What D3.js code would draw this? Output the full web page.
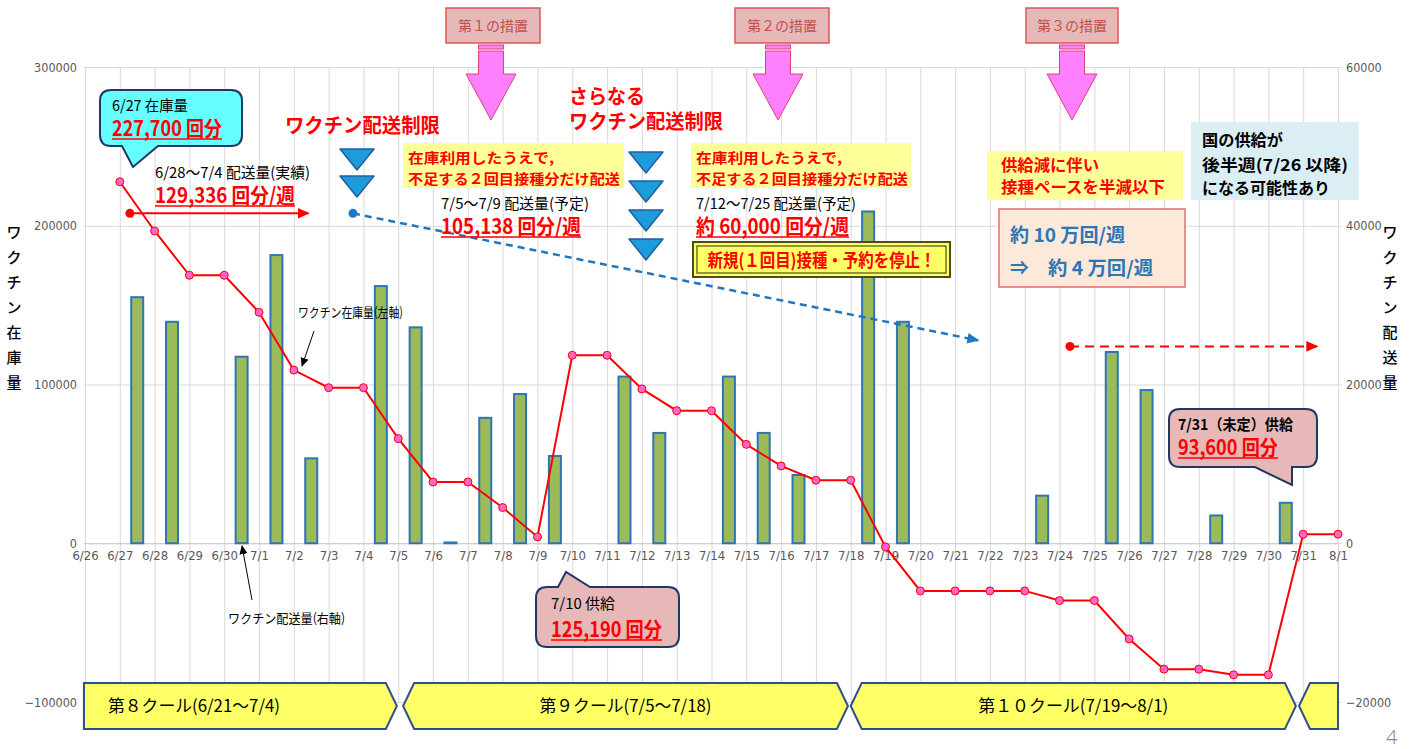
<!DOCTYPE html>
<html>
<head>
<meta charset="utf-8">
<script src="https://cdn.jsdelivr.net/npm/d3@7"></script>
<style>
  body { margin: 0; background: #fff; }
  svg { display: block; font-family: "Noto Sans CJK JP", sans-serif; }
  .tick text { font-family: "Liberation Sans Narrow", "DejaVu Sans Condensed", "Roboto", sans-serif; fill: #595959; }
</style>
</head>
<body>
<svg id="chart" width="1411" height="749"></svg>
<script>
// ---------------------------------------------------------------------------
// Data
// ---------------------------------------------------------------------------
const dates = ["6/26", "6/27", "6/28", "6/29", "6/30", "7/1", "7/2", "7/3", "7/4", "7/5",
  "7/6", "7/7", "7/8", "7/9", "7/10", "7/11", "7/12", "7/13", "7/14", "7/15", "7/16",
  "7/17", "7/18", "7/19", "7/20", "7/21", "7/22", "7/23", "7/24", "7/25", "7/26",
  "7/27", "7/28", "7/29", "7/30", "7/31", "8/1"];

// ワクチン在庫量 (left axis), 6/27 .. 8/1
const stockDates = dates.slice(1);
const stockValues = [227700, 196700, 168800, 168800, 145500, 109100, 98000, 98000,
  65900, 38600, 38600, 22500, 4000, 118400, 118400, 97200, 83500, 83500, 62300,
  48700, 39700, 39700, -2300, -30000, -30000, -30000, -30000, -36100, -36100,
  -60300, -79300, -79300, -82900, -82900, 5700, 5700];

// ワクチン配送量 (right axis), bars sit half a day after their date
const deliveryDates = ["6/27", "6/28", "6/30", "7/1", "7/2", "7/4", "7/5", "7/6", "7/7",
  "7/8", "7/9", "7/11", "7/12", "7/14", "7/15", "7/16", "7/18", "7/19", "7/23", "7/25",
  "7/26", "7/28", "7/30"];
const deliveryValues = [31000, 27900, 23500, 36300, 10700, 32400, 27200, 100, 15800,
  18800, 11000, 21000, 13900, 21000, 13900, 8600, 41800, 27900, 6000, 24100, 19300,
  3500, 5100];

const leftTicks = [-100000, 0, 100000, 200000, 300000];
const rightTicks = [-20000, 0, 20000, 40000, 60000];

const coursLabels = ["第８クール(6/21〜7/4)", "第９クール(7/5〜7/18)", "第１０クール(7/19〜8/1)", ""];
const coursSpans = [[-0.03, 8.96], [9.14, 21.92], [22.0, 34.79], [34.88, 36.0]];

// ---------------------------------------------------------------------------
// Scales / axes
// ---------------------------------------------------------------------------
const svg = d3.select("#chart");
const plotL = 85, plotR = 1338, plotT = 67, plotB = 702;

const x = d3.scalePoint().domain(dates).range([plotL, plotR]);
const step = x.step();
const xi = (i) => plotL + i * step;          // fractional day index -> px
const yL = d3.scaleLinear().domain([-100000, 300000]).range([plotB, plotT]);
const yR = d3.scaleLinear().domain([-20000, 60000]).range([plotB, plotT]);

// vertical grid
svg.append("g")
  .attr("transform", `translate(0,${plotB})`)
  .call(d3.axisBottom(x).tickSize(-(plotB - plotT)).tickFormat(""))
  .call((g) => g.select(".domain").remove())
  .call((g) => g.selectAll("line").attr("stroke", "#d9d9d9"));

// horizontal grid + left labels
svg.append("g")
  .attr("transform", `translate(${plotL - 1},0)`)
  .call(d3.axisLeft(yL).tickValues(leftTicks).tickFormat(d3.format("d"))
    .tickSize(-(plotR - plotL + 1)).tickPadding(7))
  .call((g) => g.select(".domain").remove())
  .call((g) => g.selectAll("line").attr("stroke", (d) => d === 0 ? "#bfbfbf" : "#d9d9d9"))
  .call((g) => g.selectAll("text").attr("font-size", 12.5));

// right labels
svg.append("g")
  .attr("transform", `translate(${plotR},0)`)
  .call(d3.axisRight(yR).tickValues(rightTicks).tickFormat(d3.format("d")).tickSize(4).tickPadding(4))
  .call((g) => g.select(".domain").attr("stroke", "#d9d9d9"))
  .call((g) => g.selectAll("line").attr("stroke", "#d9d9d9"))
  .call((g) => g.selectAll("text").attr("font-size", 12.5));

// category labels under the zero line
svg.append("g")
  .attr("transform", `translate(0,${yL(0)})`)
  .call(d3.axisBottom(x).tickSize(0).tickPadding(8))
  .call((g) => g.select(".domain").remove())
  .call((g) => g.selectAll("text").attr("font-size", 13));

// axis titles (vertical stacked)
function verticalTitle(cx, text) {
  const t = svg.append("text").attr("font-size", 15).attr("font-weight", 500)
    .attr("fill", "#000").attr("text-anchor", "middle");
  [...text].forEach((ch, i) => {
    t.append("tspan").attr("x", cx).attr("y", 238 + i * 25).text(ch);
  });
}
verticalTitle(14, "ワクチン在庫量");
verticalTitle(1390, "ワクチン配送量");

// ---------------------------------------------------------------------------
// Bars and line
// ---------------------------------------------------------------------------
const barW = 12;
svg.append("g")
  .selectAll("rect")
  .data(deliveryDates.map((d, i) => ({ date: d, value: deliveryValues[i] })))
  .join("rect")
  .attr("x", (d) => x(d.date) + step / 2 - barW / 2)
  .attr("y", (d) => yR(d.value))
  .attr("width", barW)
  .attr("height", (d) => yR(0) - yR(d.value))
  .attr("fill", "#9bbb59")
  .attr("stroke", "#2e75b6")
  .attr("stroke-width", 2);

const stock = stockDates.map((d, i) => ({ date: d, value: stockValues[i] }));
svg.append("path")
  .datum(stock)
  .attr("fill", "none")
  .attr("stroke", "#ff0000")
  .attr("stroke-width", 2)
  .attr("d", d3.line().x((d) => x(d.date)).y((d) => yL(d.value)));

svg.append("g")
  .selectAll("circle")
  .data(stock)
  .join("circle")
  .attr("cx", (d) => x(d.date))
  .attr("cy", (d) => yL(d.value))
  .attr("r", 4)
  .attr("fill", "#ff66cc")
  .attr("stroke", "#ff0000")
  .attr("stroke-width", 1);

// ---------------------------------------------------------------------------
// Annotations
// ---------------------------------------------------------------------------
const defs = svg.append("defs");
function marker(id, color, size) {
  defs.append("marker")
    .attr("id", id)
    .attr("viewBox", "0 -5 10 10")
    .attr("refX", 9).attr("refY", 0)
    .attr("orient", "auto")
    .attr("markerUnits", "userSpaceOnUse")
    .attr("markerWidth", size).attr("markerHeight", size)
    .append("path").attr("d", "M0,-4.5L10,0L0,4.5Z").attr("fill", color);
}
marker("arr-red", "#ff0000", 12);
marker("arr-blue", "#1f77c4", 12);
marker("arr-black", "#000", 9);

function levelArrow(i0, v0, i1, v1, color, width, dash, mk) {
  svg.append("line")
    .attr("x1", xi(i0)).attr("y1", yL(v0))
    .attr("x2", xi(i1)).attr("y2", yL(v1))
    .attr("stroke", color).attr("stroke-width", width)
    .attr("stroke-dasharray", dash)
    .attr("marker-end", `url(#${mk})`);
  svg.append("circle").attr("cx", xi(i0)).attr("cy", yL(v0)).attr("r", 4.5).attr("fill", color);
}
levelArrow(1.29, 207800, 6.42, 207800, "#ff0000", 2, null, "arr-red");
levelArrow(7.70, 207800, 25.66, 127800, "#1f77c4", 2.5, "7,5", "arr-blue");
levelArrow(28.3, 124000, 35.4, 124000, "#ff0000", 2, "9,6", "arr-red");

function addText(o) {
  const t = svg.append("text")
    .attr("x", o.x).attr("y", o.y)
    .attr("font-size", o.size || 14)
    .attr("font-weight", o.weight || 400)
    .attr("fill", o.color || "#000")
    .attr("text-anchor", o.anchor || "start")
    .text(o.text);
  if (o.width) t.attr("textLength", o.width).attr("lengthAdjust", "spacingAndGlyphs");
  if (o.underline) {
    svg.append("line")
      .attr("x1", o.x).attr("x2", o.x + o.width)
      .attr("y1", o.y + 3).attr("y2", o.y + 3)
      .attr("stroke", o.color).attr("stroke-width", 1.5);
  }
  return t;
}
// big red amount with underline
const amount = (x, y, text, width) =>
  addText({ x, y, text, size: 21, weight: 600, color: "#ff0000", width, underline: true });

function calloutPath(x0, y0, x1, y1, r, tail) {
  let p = `M${x0 + r},${y0}`;
  if (tail.side === "top") p += `L${tail.a},${y0}L${tail.tx},${tail.ty}L${tail.b},${y0}`;
  p += `L${x1 - r},${y0}Q${x1},${y0} ${x1},${y0 + r}L${x1},${y1 - r}Q${x1},${y1} ${x1 - r},${y1}`;
  if (tail.side === "bottom") p += `L${tail.b},${y1}L${tail.tx},${tail.ty}L${tail.a},${y1}`;
  p += `L${x0 + r},${y1}Q${x0},${y1} ${x0},${y1 - r}L${x0},${y0 + r}Q${x0},${y0} ${x0 + r},${y0}Z`;
  return p;
}
function callout(x0, y0, x1, y1, fill, tail) {
  svg.append("path")
    .attr("d", calloutPath(x0, y0, x1, y1, 11, tail))
    .attr("fill", fill).attr("stroke", "#203864").attr("stroke-width", 2);
}

// 6/27 stock callout
callout(100, 90, 242, 146, "#66ffff", { side: "bottom", a: 122, b: 158, tx: 133, ty: 167 });
addText({ x: 112, y: 111, text: "6/27 在庫量", size: 15, width: 76 });
amount(112, 136, "227,700 回分", 110);

addText({ x: 155, y: 178, text: "6/28〜7/4 配送量(実績)", size: 15, width: 155 });
amount(155, 203, "129,336 回分/週", 140);

addText({ x: 285, y: 133, text: "ワクチン配送制限", size: 20, weight: 700, color: "#ff0000", width: 155 });
addText({ x: 569, y: 104, text: "さらなる", size: 20, weight: 700, color: "#ff0000", width: 76 });
addText({ x: 569, y: 129, text: "ワクチン配送制限", size: 20, weight: 700, color: "#ff0000", width: 154 });

// blue triangles
function tri(cx, ty) {
  svg.append("path")
    .attr("d", `M${cx - 17},${ty}L${cx + 17},${ty}L${cx},${ty + 21}Z`)
    .attr("fill", "#1e9bdb").attr("stroke", "#1f5f9f").attr("stroke-width", 1.5)
    .attr("stroke-linejoin", "round");
}
[149, 176].forEach((t) => tri(357, t));
[152, 181, 210, 239].forEach((t) => tri(646, t));

// yellow note boxes
[403, 691].forEach((bx) => {
  svg.append("rect").attr("x", bx).attr("y", 143).attr("width", bx === 403 ? 221 : 220)
    .attr("height", 45).attr("fill", "#ffff99");
  addText({ x: bx + 5, y: 163, text: "在庫利用したうえで,", size: 14, weight: 700, color: "#ff0000", width: 146 });
  addText({ x: bx + 5, y: 184, text: "不足する２回目接種分だけ配送", size: 14, weight: 700, color: "#ff0000", width: 212 });
});

addText({ x: 441, y: 209, text: "7/5〜7/9 配送量(予定)", size: 15, width: 148 });
amount(441, 234, "105,138 回分/週", 140);
addText({ x: 696, y: 209, text: "7/12〜7/25 配送量(予定)", size: 15, width: 160 });
amount(696, 234, "約 60,000 回分/週", 153);

// 新規接種停止 box (over the bars)
svg.append("rect").attr("x", 693).attr("y", 242).attr("width", 257).attr("height", 35)
  .attr("fill", "#ffff66").attr("stroke", "#4d4d1a").attr("stroke-width", 2);
svg.append("rect").attr("x", 697).attr("y", 246).attr("width", 249).attr("height", 27)
  .attr("fill", "none").attr("stroke", "#4d4d1a").attr("stroke-width", 1.2);
addText({ x: 821.5, y: 267, text: "新規(１回目)接種・予約を停止！", size: 18, weight: 700,
  color: "#ff0000", anchor: "middle", width: 228 });

// measure boxes and pink arrows
const measures = [["第１の措置", 446, 540, 491], ["第２の措置", 735, 829, 778], ["第３の措置", 1026, 1118, 1072]];
measures.forEach(([label, bx0, bx1, cx]) => {
  svg.append("rect").attr("x", bx0).attr("y", 8).attr("width", bx1 - bx0).attr("height", 35)
    .attr("fill", "#e6b8b7").attr("stroke", "#e05555").attr("stroke-width", 1.5);
  addText({ x: (bx0 + bx1) / 2, y: 31, text: label, size: 14, color: "#c0504d", anchor: "middle", width: 70 });
  svg.append("rect").attr("x", cx - 12.5).attr("y", 45).attr("width", 25).attr("height", 4)
    .attr("fill", "#ff80ff").attr("stroke", "#e0407a").attr("stroke-width", 1);
  svg.append("path")
    .attr("d", `M${cx - 12.5},51L${cx + 12.5},51L${cx + 12.5},74L${cx + 25},74L${cx},120L${cx - 25},74L${cx - 12.5},74Z`)
    .attr("fill", "#ff80ff").attr("stroke", "#e0407a").attr("stroke-width", 1);
});

// right side boxes
svg.append("rect").attr("x", 987).attr("y", 151).attr("width", 196).attr("height", 49).attr("fill", "#ffff99");
addText({ x: 1001, y: 171, text: "供給減に伴い", size: 16, weight: 700, color: "#ff0000", width: 98 });
addText({ x: 1001, y: 193, text: "接種ペースを半減以下", size: 16, weight: 700, color: "#ff0000", width: 164 });

svg.append("rect").attr("x", 1191).attr("y", 122).attr("width", 168).attr("height", 78).attr("fill", "#dbeef4");
addText({ x: 1202, y: 146, text: "国の供給が", size: 16, weight: 700, width: 81 });
addText({ x: 1202, y: 171, text: "後半週(7/26 以降)", size: 16, weight: 700, width: 146 });
addText({ x: 1202, y: 194, text: "になる可能性あり", size: 16, weight: 700, width: 128 });

svg.append("rect").attr("x", 999).attr("y", 209).attr("width", 186).attr("height", 78)
  .attr("fill", "#fde9d9").attr("stroke", "#e46c6c").attr("stroke-width", 1.5);
addText({ x: 1010, y: 242, text: "約 10 万回/週", size: 19, weight: 700, color: "#2e75b6", width: 115 });
addText({ x: 1010, y: 275, text: "⇒", size: 19, weight: 700, color: "#2e75b6" });
addText({ x: 1048, y: 275, text: "約 4 万回/週", size: 19, weight: 700, color: "#2e75b6", width: 105 });

// 7/31 callout
callout(1169, 409, 1317, 467, "#e6b8b7", { side: "bottom", a: 1255, b: 1292, tx: 1292, ty: 485 });
addText({ x: 1178, y: 430, text: "7/31（未定）供給", size: 15, weight: 700, width: 115 });
amount(1178, 455, "93,600 回分", 100);

// 7/10 callout
callout(536, 587, 679, 647, "#e6b8b7", { side: "top", a: 558, b: 590, tx: 566, ty: 572 });
addText({ x: 551, y: 609, text: "7/10 供給", size: 15, width: 64 });
amount(551, 637, "125,190 回分", 111);

// series labels
addText({ x: 298, y: 317, text: "ワクチン在庫量(左軸)", size: 13, width: 105 });
svg.append("line").attr("x1", 314).attr("y1", 331).attr("x2", 302).attr("y2", 366)
  .attr("stroke", "#000").attr("stroke-width", 1).attr("marker-end", "url(#arr-black)");
addText({ x: 228, y: 623, text: "ワクチン配送量(右軸)", size: 13, width: 117 });
svg.append("line").attr("x1", 252).attr("y1", 600).attr("x2", 242).attr("y2", 546)
  .attr("stroke", "#000").attr("stroke-width", 1).attr("marker-end", "url(#arr-black)");

// ---------------------------------------------------------------------------
// クール banners
// ---------------------------------------------------------------------------
const bTop = 683, bBot = 729, bMid = (bTop + bBot) / 2, notch = 11;
coursSpans.forEach(([i0, i1], k) => {
  const x0 = xi(i0), x1 = xi(i1);
  const leftPointed = k > 0, rightPointed = k < coursSpans.length - 1;
  let d = leftPointed ? `M${x0},${bMid}L${x0 + notch},${bTop}` : `M${x0},${bTop}`;
  d += rightPointed ? `L${x1 - notch},${bTop}L${x1},${bMid}L${x1 - notch},${bBot}` : `L${x1},${bTop}L${x1},${bBot}`;
  d += leftPointed ? `L${x0 + notch},${bBot}Z` : `L${x0},${bBot}Z`;
  svg.append("path").attr("d", d)
    .attr("fill", "#ffff66").attr("stroke", "#2f4f8f").attr("stroke-width", 2);
  if (coursLabels[k]) {
    addText({ x: k === 0 ? 194 : (x0 + x1) / 2, y: bMid + 6, text: coursLabels[k], size: 17,
      anchor: "middle", width: k === 2 ? 190 : 172 });
  }
});

// page number
svg.append("text").attr("x", 1386).attr("y", 744).attr("font-size", 20)
  .attr("font-family", "Noto Sans, sans-serif").attr("font-weight", 300)
  .attr("fill", "#8c8c8c").text("4");
</script>
</body>
</html>
